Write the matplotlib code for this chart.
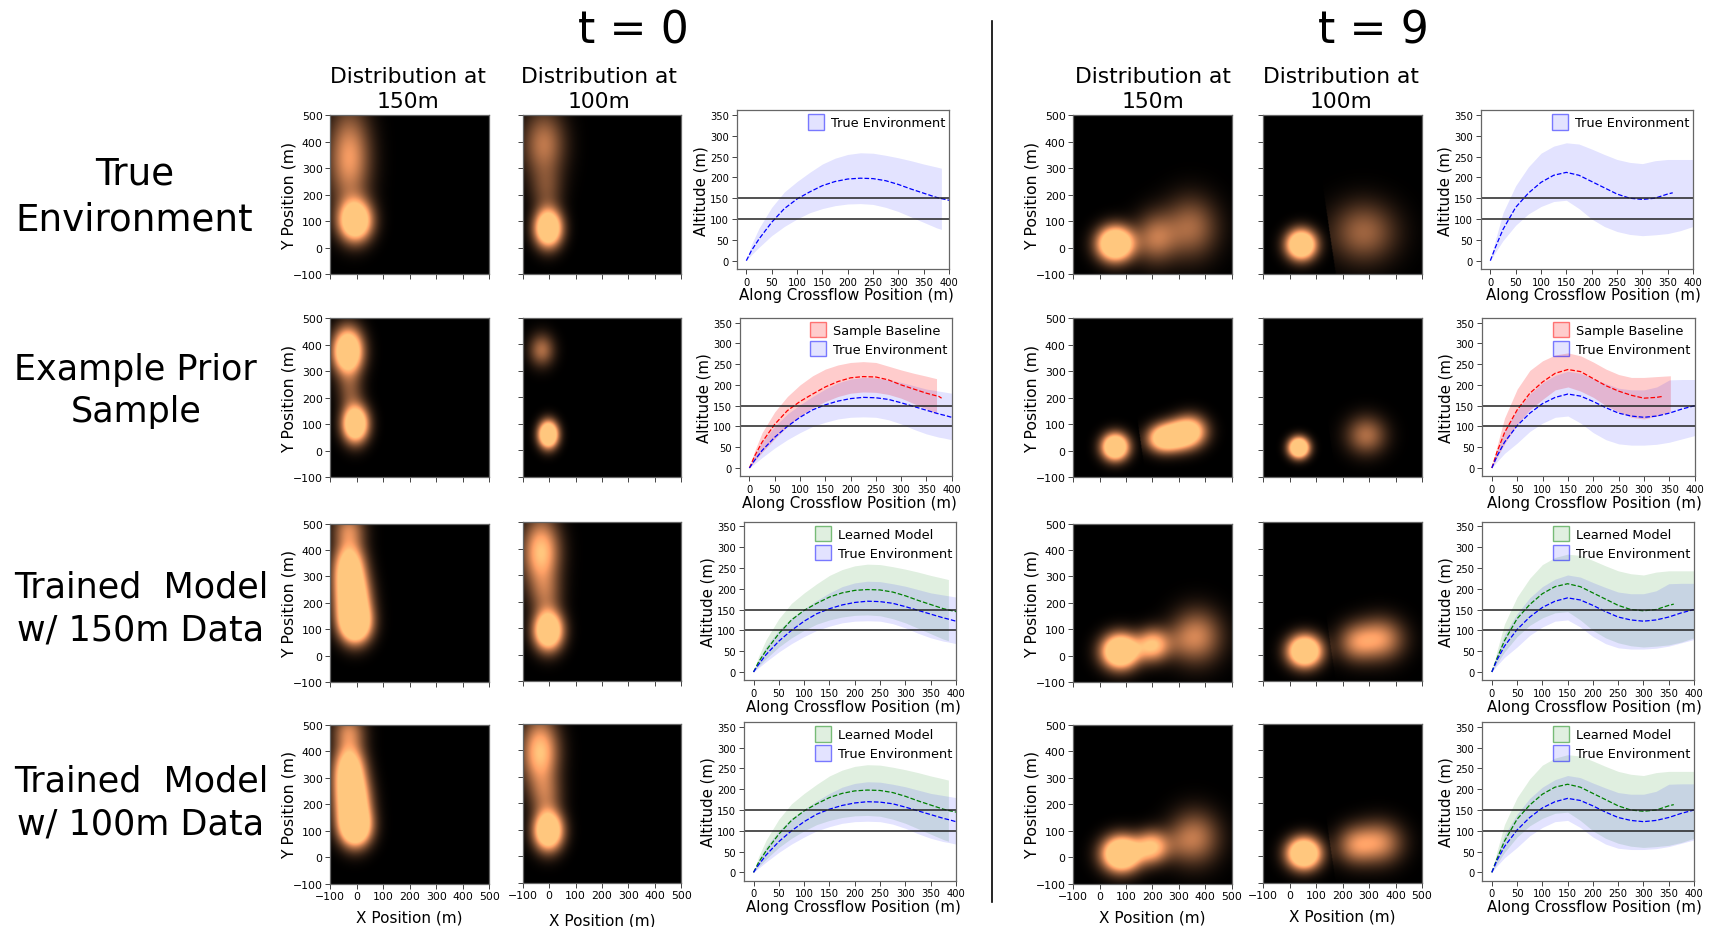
import numpy as np
import matplotlib
matplotlib.use("Agg")
import matplotlib.pyplot as plt
from matplotlib.patches import Patch

W, H = 1716, 928

ROW_LABELS = ["True\nEnvironment", "Example Prior\nSample", "Trained  Model\nw/ 150m Data", "Trained  Model\nw/ 100m Data"]
ROW_SIZES = [26.8, 25.2, 25.2, 25.2]
ROW_X = [134.5, 135.7, 141, 141]
ROW_Y = [197, 391, 609, 803]
COL_TITLE = "Distribution at\n{}"

HEAT_TICKS = [-100, 0, 100, 200, 300, 400, 500]
ALT_XTICKS = [0, 50, 100, 150, 200, 250, 300, 350, 400]
ALT_YTICKS = [0, 50, 100, 150, 200, 250, 300, 350]
THRESHOLDS = [100, 150]

# altitude curves, t = 0
X0 = [0, 10, 25, 50, 75, 100, 125, 150, 175, 200, 225, 250, 275, 300, 325, 350, 375, 385, 400]
X0_BAND = X0[:-1]
ENV0_MEAN = [0, 24, 52, 92, 125, 148, 165, 180, 190, 196, 198, 197, 192, 183, 172, 162, 152, 149, 145]
ENV0_UP = [0, 38, 78, 128, 165, 190, 212, 232, 246, 255, 259, 258, 253, 247, 240, 232, 225, 222]
ENV0_LOW = [0, 14, 32, 60, 82, 100, 115, 125, 132, 136, 137, 135, 128, 118, 105, 92, 79, 75]
BLUE0_MEAN = [0, 18, 42, 74, 100, 122, 140, 152, 161, 167, 170, 169, 165, 157, 148, 139, 130, 127, 122]
BLUE0_UP = [0, 30, 62, 100, 130, 152, 172, 190, 205, 214, 218, 217, 212, 206, 198, 190, 185, 183, 180]
BLUE0_LOW = [0, 10, 25, 48, 68, 85, 100, 110, 118, 122, 123, 122, 116, 106, 93, 82, 74, 72, 68]
X0_RED = [0, 10, 25, 50, 75, 100, 125, 150, 175, 200, 225, 250, 275, 300, 325, 350, 375, 380]
RED0_MEAN = [0, 28, 62, 105, 138, 160, 178, 195, 208, 217, 220, 219, 212, 200, 190, 180, 172, 168]
X0_RED_BAND = [0, 10, 25, 50, 75, 100, 125, 150, 175, 200, 225, 250, 275, 300, 325, 350, 370]
RED0_UP = [0, 40, 85, 135, 172, 200, 222, 238, 248, 254, 256, 254, 245, 236, 228, 221, 215]
RED0_LOW = [0, 16, 38, 70, 100, 125, 145, 160, 172, 180, 183, 182, 177, 168, 155, 142, 130]

# altitude curves, t = 9
X9 = [0, 10, 25, 50, 75, 100, 125, 150, 175, 200, 225, 250, 275, 300, 325, 350, 375, 400]
X9_ENV_LINE = [0, 10, 25, 50, 75, 100, 125, 150, 175, 200, 225, 250, 275, 300, 325, 350, 360]
ENV9_MEAN = [0, 32, 75, 128, 162, 188, 205, 212, 205, 190, 175, 160, 150, 147, 150, 160, 163]
ENV9_UP = [0, 50, 115, 180, 225, 258, 275, 283, 280, 268, 255, 243, 236, 233, 240, 243, 243, 243]
ENV9_LOW = [0, 20, 48, 85, 112, 130, 142, 145, 125, 100, 82, 70, 63, 60, 62, 65, 72, 82]
BLUE9_MEAN = [0, 28, 62, 102, 132, 155, 170, 178, 173, 160, 145, 132, 125, 122, 125, 132, 142, 150]
BLUE9_UP = [0, 42, 90, 140, 178, 205, 223, 233, 228, 215, 203, 192, 188, 188, 195, 212, 213, 213]
BLUE9_LOW = [0, 15, 35, 60, 88, 108, 122, 125, 108, 85, 68, 58, 55, 55, 57, 62, 70, 78]
X9_RED = [0, 10, 25, 50, 75, 100, 125, 150, 175, 200, 225, 250, 275, 300, 325, 335]
RED9_MEAN = [0, 38, 85, 140, 180, 207, 228, 237, 232, 215, 198, 185, 175, 168, 170, 172]
X9_RED_BAND = [0, 10, 25, 50, 75, 100, 125, 150, 175, 200, 225, 250, 275, 300, 325, 352]
RED9_UP = [0, 52, 120, 190, 235, 258, 272, 277, 270, 255, 238, 225, 218, 218, 220, 222]
RED9_LOW = [0, 25, 58, 105, 140, 165, 188, 195, 185, 170, 150, 135, 122, 118, 125, 135]

# heatmap blobs: x, y, spread x, spread y, peak, cut at plume edge
T0_ROW1_150 = [(-5, 100, 42, 52, 1.7, 0), (-28, 340, 55, 125, 0.78, 0)]
T0_ROW1_100 = [(-5, 72, 35, 48, 1.8, 0), (-22, 390, 55, 90, 0.6, 0), (-12, 215, 42, 60, 0.3, 0)]
T0_ROW2_150 = [(-5, 100, 33, 47, 1.8, 0), (-33, 375, 38, 58, 1.8, 0), (-25, 225, 34, 50, 0.35, 0)]
T0_ROW2_100 = [(-5, 60, 25, 34, 2.0, 0), (-30, 380, 33, 42, 0.55, 0)]
T0_ROW3_150 = [(-5, 120, 40, 50, 1.8, 0), (-15, 210, 42, 65, 1.6, 0), (-28, 330, 40, 70, 1.4, 0), (-30, 480, 42, 45, 0.55, 0)]
T0_ROW3_100 = [(-5, 90, 37, 50, 1.8, 0), (-32, 386, 48, 90, 1.0, 0), (-15, 225, 42, 55, 0.38, 0)]
T0_ROW4_150 = [(-5, 115, 40, 50, 1.8, 0), (-15, 210, 42, 65, 1.6, 0), (-28, 330, 40, 70, 1.4, 0), (-30, 480, 42, 45, 0.55, 0)]
T0_ROW4_100 = [(-5, 97, 37, 50, 1.8, 0), (-36, 394, 48, 90, 1.0, 0), (-15, 230, 42, 55, 0.42, 0)]
T9_ROW1_150 = [(59, 13, 46, 44, 1.9, 0), (210, 35, 55, 65, 0.55, 0), (345, 75, 70, 80, 0.52, 0)]
T9_ROW1_100 = [(44, 10, 38, 38, 1.9, 0), (280, 57, 85, 78, 0.5, 1)]
T9_ROW2_150 = [(59, 13, 34, 34, 1.9, 0), (235, 45, 40, 35, 1.15, 1), (290, 55, 42, 37, 1.1, 1), (345, 72, 42, 40, 1.15, 1)]
T9_ROW2_100 = [(35, 10, 26, 26, 2.0, 0), (290, 57, 52, 50, 0.55, 1)]
T9_ROW3_150 = [(78, 15, 47, 44, 1.9, 0), (200, 38, 42, 42, 0.95, 0), (285, 50, 50, 48, 0.15, 0), (368, 72, 65, 70, 0.64, 0)]
T9_ROW3_100 = [(57, 12, 43, 40, 1.9, 0), (250, 45, 50, 50, 0.55, 1), (345, 58, 60, 55, 0.7, 1)]
T9_ROW4_150 = [(82, 13, 49, 45, 1.9, 0), (196, 38, 42, 42, 0.95, 0), (280, 50, 50, 48, 0.15, 0), (360, 75, 65, 70, 0.58, 0)]
T9_ROW4_100 = [(54, 11, 43, 40, 1.9, 0), (245, 42, 50, 50, 0.55, 1), (340, 52, 60, 55, 0.66, 1)]

GRID = np.linspace(-100, 500, 300)


def px_axes(fig, left, top, right, bottom):
    return fig.add_axes([left / W, 1 - bottom / H, (right - left) / W, (bottom - top) / H])


def blob_field(blobs):
    xx, yy = np.meshgrid(GRID, GRID)
    field = np.zeros_like(xx)
    for x, y, sx, sy, peak, cut in blobs:
        part = peak * np.exp(-((xx - x) ** 2) / (2 * sx ** 2) - ((yy - y) ** 2) / (2 * sy ** 2))
        if cut:
            part[xx < 160 - 0.147 * yy] = 0
        field += part
    return field


def style_spines(ax):
    for s in ax.spines.values():
        s.set_color("#666666")
        s.set_linewidth(0.9)
    ax.tick_params(color="#444444", width=0.7, length=3.5, pad=2)


def draw_heat(ax, blobs, ylabel, xlabels, xlabel_pad=6):
    ax.imshow(blob_field(blobs), cmap="copper", vmin=0, vmax=1, origin="lower",
              extent=[-100, 500, -100, 500], aspect="auto", interpolation="bilinear")
    ax.set_xticks(HEAT_TICKS)
    ax.set_yticks(HEAT_TICKS)
    style_spines(ax)
    ax.tick_params(labelsize=7.8)
    if not ylabel:
        ax.set_yticklabels([])
    else:
        ax.set_ylabel("Y Position (m)", fontsize=11.3, labelpad=-3)
    if not xlabels:
        ax.set_xticklabels([])
    else:
        ax.set_xlabel("X Position (m)", fontsize=11, labelpad=xlabel_pad)


def band(ax, x, up, low, color, alpha):
    ax.fill_between(x, low, up, color=color, alpha=alpha, linewidth=0)


def draw_alt(ax, series, label_x):
    handles = []
    for name, color, alpha, xb, up, low, xl, mean in series:
        band(ax, xb, up, low, color, alpha)
        ax.plot(xl, mean, color=color, linestyle="--", linewidth=0.9)
        handles.append(Patch(facecolor=matplotlib.colors.to_rgba(color, alpha),
                             edgecolor=matplotlib.colors.to_rgba(color, 0.5), label=name))
    for v in THRESHOLDS:
        ax.axhline(v, color="#222222", linewidth=1.1)
    ax.set_xlim(-19.4, 400)
    ax.set_ylim(-20, 361)
    ax.set_xticks(ALT_XTICKS)
    ax.set_yticks(ALT_YTICKS)
    style_spines(ax)
    ax.tick_params(labelsize=7.2)
    ax.set_xlabel("Along Crossflow Position (m)", fontsize=10.8, labelpad=0.5)
    ax.xaxis.label.set_x(label_x)
    ax.set_ylabel("Altitude (m)", fontsize=10.8, labelpad=1)
    ax.legend(handles=handles, loc="upper right", frameon=False, fontsize=9.3,
              handlelength=1.25, handleheight=1.45, handletextpad=0.55, labelspacing=0.3,
              borderaxespad=0, borderpad=0.3)


fig = plt.figure(figsize=(W / 100, H / 100), dpi=100)

# pixel boxes of the panels: left, right for heat columns, then per row top, bottom
HEAT_X = {0: [(330.3, 489.2), (522.7, 681.2)], 9: [(1073.3, 1231.5), (1263.3, 1422)]}
HEAT_Y = [[(116.3, 275), (116.3, 275)], [(319.3, 478), (319, 477.7)],
          [(524.7, 683), (523.3, 682)], [(726, 884.7), (725, 883.7)]]
ALT_X = {0: [(736.5, 949), (739.6, 951.7), (743.7, 956), (743.7, 956)],
         9: [(1480.5, 1693), (1482, 1694.7), (1482, 1694), (1482, 1694)]}
ALT_Y = [(111.3, 270), (319, 477.3), (522.7, 681.3), (723.3, 881.7)]
ALT_LABEL_X = {0: 0.518, 9: 0.53}

HEAT_BLOBS = {
    0: [[T0_ROW1_150, T0_ROW1_100], [T0_ROW2_150, T0_ROW2_100], [T0_ROW3_150, T0_ROW3_100], [T0_ROW4_150, T0_ROW4_100]],
    9: [[T9_ROW1_150, T9_ROW1_100], [T9_ROW2_150, T9_ROW2_100], [T9_ROW3_150, T9_ROW3_100], [T9_ROW4_150, T9_ROW4_100]],
}

ENV0 = ("True Environment", "blue", 0.11, X0_BAND, ENV0_UP, ENV0_LOW, X0, ENV0_MEAN)
BLUE0 = ("True Environment", "blue", 0.11, X0, BLUE0_UP, BLUE0_LOW, X0, BLUE0_MEAN)
RED0 = ("Sample Baseline", "red", 0.2, X0_RED_BAND, RED0_UP, RED0_LOW, X0_RED, RED0_MEAN)
GREEN0 = ("Learned Model", "green", 0.12, X0_BAND, ENV0_UP, ENV0_LOW, X0, ENV0_MEAN)
ENV9 = ("True Environment", "blue", 0.11, X9, ENV9_UP, ENV9_LOW, X9_ENV_LINE, ENV9_MEAN)
BLUE9 = ("True Environment", "blue", 0.11, X9, BLUE9_UP, BLUE9_LOW, X9, BLUE9_MEAN)
RED9 = ("Sample Baseline", "red", 0.2, X9_RED_BAND, RED9_UP, RED9_LOW, X9_RED, RED9_MEAN)
GREEN9 = ("Learned Model", "green", 0.12, X9, ENV9_UP, ENV9_LOW, X9_ENV_LINE, ENV9_MEAN)

ALT_SERIES = {
    0: [[ENV0], [RED0, BLUE0], [GREEN0, BLUE0], [GREEN0, BLUE0]],
    9: [[ENV9], [RED9, BLUE9], [GREEN9, BLUE9], [GREEN9, BLUE9]],
}

for t in (0, 9):
    for r in range(4):
        for c in range(2):
            left, right = HEAT_X[t][c]
            top, bottom = HEAT_Y[r][c]
            ax = px_axes(fig, left, top, right, bottom)
            pad = 6 if (t == 9 or c == 0) else 9
            draw_heat(ax, HEAT_BLOBS[t][r][c], c == 0, r == 3, pad)
        ax = px_axes(fig, ALT_X[t][r][0], ALT_Y[r][0], ALT_X[t][r][1], ALT_Y[r][1])
        draw_alt(ax, ALT_SERIES[t][r], ALT_LABEL_X[t])

for r in range(4):
    fig.text(ROW_X[r] / W, 1 - ROW_Y[r] / H, ROW_LABELS[r], fontsize=ROW_SIZES[r], ha="center", va="center", linespacing=1.33)

for cx, m in [(408, "150m"), (598.6, "100m"), (1152.5, "150m"), (1340.6, "100m")]:
    fig.text(cx / W, 1 - 89.5 / H, COL_TITLE.format(m), fontsize=15.7, ha="center", va="center", linespacing=1.35)

fig.text(633.5 / W, 1 - 31 / H, "t = 0", fontsize=31.9, ha="center", va="center")
fig.text(1373 / W, 1 - 31 / H, "t = 9", fontsize=31.9, ha="center", va="center")

fig.add_artist(plt.Line2D([991.5 / W, 991.5 / W], [1 - 22 / H, 1 - 903 / H], color="black", linewidth=1.2))

fig.savefig("out.png", dpi=100)
